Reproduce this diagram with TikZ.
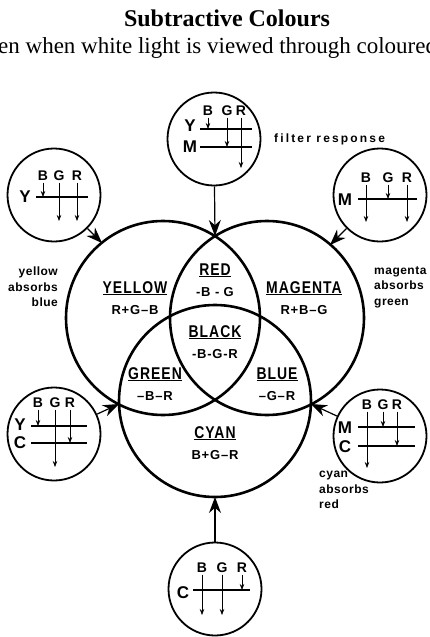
\documentclass[tikz,border=0pt]{standalone}
\usepackage{fontspec}
\setmainfont{Liberation Serif}
\setsansfont{Liberation Sans}
\usetikzlibrary{positioning,arrows.meta}

\tikzset{
  venn/.style={line width=2.6pt},
  filt/.style={circle, draw, line width=1.8pt, minimum size=93pt, inner sep=0pt},
  feed/.style={line width=1.2pt, -{Stealth[length=16pt,width=12pt]}},
  ray/.style={line width=0.7pt, -{Stealth[length=6pt,width=4.5pt]}},
  fline/.style={line width=1.3pt},
  band/.style={font=\sffamily\bfseries\fontsize{14}{14}\selectfont, inner sep=1.5pt},
  fname/.style={font=\sffamily\bfseries\fontsize{17}{17}\selectfont, inner sep=0pt},
  vname/.style={font=\sffamily\bfseries\fontsize{17}{17}\selectfont\addfontfeature{FakeStretch=0.82,LetterSpace=6}, inner sep=0pt},
  vform/.style={font=\sffamily\bfseries\fontsize{13}{13}\selectfont\addfontfeature{LetterSpace=6}, inner sep=0pt},
  note/.style={font=\sffamily\bfseries\fontsize{12}{15.5}\selectfont\addfontfeature{LetterSpace=4}, inner sep=0pt},
  wide/.style={font=\sffamily\bfseries\fontsize{12}{12}\selectfont\addfontfeature{LetterSpace=18}, inner sep=0pt},
  ttl/.style={font=\rmfamily\bfseries\fontsize{24}{24}\selectfont, inner sep=0pt},
  sub/.style={font=\rmfamily\fontsize{23}{23}\selectfont, inner sep=0pt},
}

\begin{document}
\begin{tikzpicture}[x=1pt,y=-1pt]
    \useasboundingbox (0,0) rectangle (429,637);

    % heading
    \node[ttl, anchor=base] (title) at (227,27) {Subtractive Colours};
    \node[sub, anchor=base west] (subt) at (-2,53) {en when white light is viewed through coloured};

    % the three filters
    \draw[venn] (163,318) circle (97pt);
    \draw[venn] (267,318) circle (97pt);
    \draw[venn] (215,401) circle (96pt);

    \node[vname, anchor=base] (yelname) at (135,293) {\underline{YELLOW}};
    \node[vform, below=10pt of yelname] (yelform) {R+G–B};
    \node[vname, anchor=base] (magname) at (304,293) {\underline{MAGENTA}};
    \node[vform, below=10pt of magname] (magform) {R+B–G};
    \node[vname, anchor=base] (redname) at (215,275) {\underline{RED}};
    \node[vform, below=10pt of redname] (redform) {-B - G};
    \node[vname, anchor=base] (blkname) at (215,337) {\underline{BLACK}};
    \node[vform, below=10pt of blkname] (blkform) {-B-G-R};
    \node[vname, anchor=base] (grnname) at (155,379) {\underline{GREEN}};
    \node[vform, below=10pt of grnname] (grnform) {–B–R};
    \node[vname, anchor=base] (bluname) at (277,379) {\underline{BLUE}};
    \node[vform, below=10pt of bluname] (bluform) {–G–R};
    \node[vname, anchor=base] (cyaname) at (215,438) {\underline{CYAN}};
    \node[vform, below=10pt of cyaname] (cyaform) {B+G–R};

    \node[note, align=right, anchor=east] (ynote) at (58,287) {yellow\\absorbs\\blue};
    \node[note, align=left, anchor=west] (mnote) at (374,287) {magenta\\absorbs\\green};
    \node[note, align=left, anchor=west] (cnote) at (319,490) {cyan\\absorbs\\red};
    \node[wide, anchor=west] (fresp) at (274,139) {filter response};

    % filter responses
    \node[filt] (fym) at (214,139) {};
    \node[filt] (fy) at (54,195) {};
    \node[filt] (fm) at (380,195) {};
    \node[filt] (fyc) at (54,434) {};
    \node[filt] (fmc) at (380,436) {};
    \node[filt] (fc) at (215,589) {};

    \coordinate (ttop) at (215,236);
    \coordinate (tyel) at (102,243);
    \coordinate (tmag) at (330,245);
    \coordinate (tyc) at (119,404);
    \coordinate (tmc) at (311,404);
    \coordinate (tbot) at (215,497);

    \draw[feed] (fym) -- (ttop);
    \draw[feed] (fy) -- (tyel);
    \draw[feed] (fm) -- (tmag);
    \draw[feed] (fyc) -- (tyc);
    \draw[feed] (fmc) -- (tmc);
    \draw[feed] (fc) -- (tbot);

    % Y over M
    \node[band] (ymB) at (208,111) {B};
    \node[band] (ymG) at (227,111) {G};
    \node[band] (ymR) at (241,111) {R};
    \node[fname] (ymY) at (190,126) {Y};
    \node[fname] (ymM) at (190,147) {M};
    \draw[fline] (200,129) -- (252,129);
    \draw[fline] (200,147) -- (252,147);
    \draw[ray] (ymB.south) -- (208,129);
    \draw[ray] (ymG.south) -- (227,147);
    \draw[ray] (ymR.south) -- (241,168);

    % Y
    \node[band] (yB) at (43,176) {B};
    \node[band] (yG) at (59,176) {G};
    \node[band] (yR) at (77,176) {R};
    \node[fname] (yY) at (25,197) {Y};
    \draw[fline] (36,197) -- (88,197);
    \draw[ray] (yB.south) -- (43,197);
    \draw[ray] (yG.south) -- (59,221);
    \draw[ray] (yR.south) -- (77,221);

    % M
    \node[band] (mB) at (366,178) {B};
    \node[band] (mG) at (388,178) {G};
    \node[band] (mR) at (407,178) {R};
    \node[fname] (mM) at (345,200) {M};
    \draw[fline] (358,199) -- (417,199);
    \draw[ray] (mB.south) -- (366,222);
    \draw[ray] (mG.south) -- (388,199);
    \draw[ray] (mR.south) -- (407,222);

    % Y over C
    \node[band] (ycB) at (38,403) {B};
    \node[band] (ycG) at (55,403) {G};
    \node[band] (ycR) at (70,403) {R};
    \node[fname] (ycY) at (20,425) {Y};
    \node[fname] (ycC) at (20,443) {C};
    \draw[fline] (31,426) -- (87,426);
    \draw[fline] (31,443) -- (87,443);
    \draw[ray] (ycB.south) -- (38,426);
    \draw[ray] (ycG.south) -- (55,467);
    \draw[ray] (ycR.south) -- (70,443);

    % M over C
    \node[band] (mcB) at (367,405) {B};
    \node[band] (mcG) at (383,405) {G};
    \node[band] (mcR) at (397,405) {R};
    \node[fname] (mcM) at (345,428) {M};
    \node[fname] (mcC) at (345,447) {C};
    \draw[fline] (358,427) -- (415,427);
    \draw[fline] (358,446) -- (415,446);
    \draw[ray] (mcB.south) -- (367,468);
    \draw[ray] (mcG.south) -- (383,427);
    \draw[ray] (mcR.south) -- (397,446);

    % C
    \node[band] (cB) at (202,568) {B};
    \node[band] (cG) at (222,568) {G};
    \node[band] (cR) at (242,568) {R};
    \node[fname] (cC) at (183,593) {C};
    \draw[fline] (193,590) -- (250,590);
    \draw[ray] (cB.south) -- (202,615);
    \draw[ray] (cG.south) -- (222,615);
    \draw[ray] (cR.south) -- (242,590);
\end{tikzpicture}
\end{document}
